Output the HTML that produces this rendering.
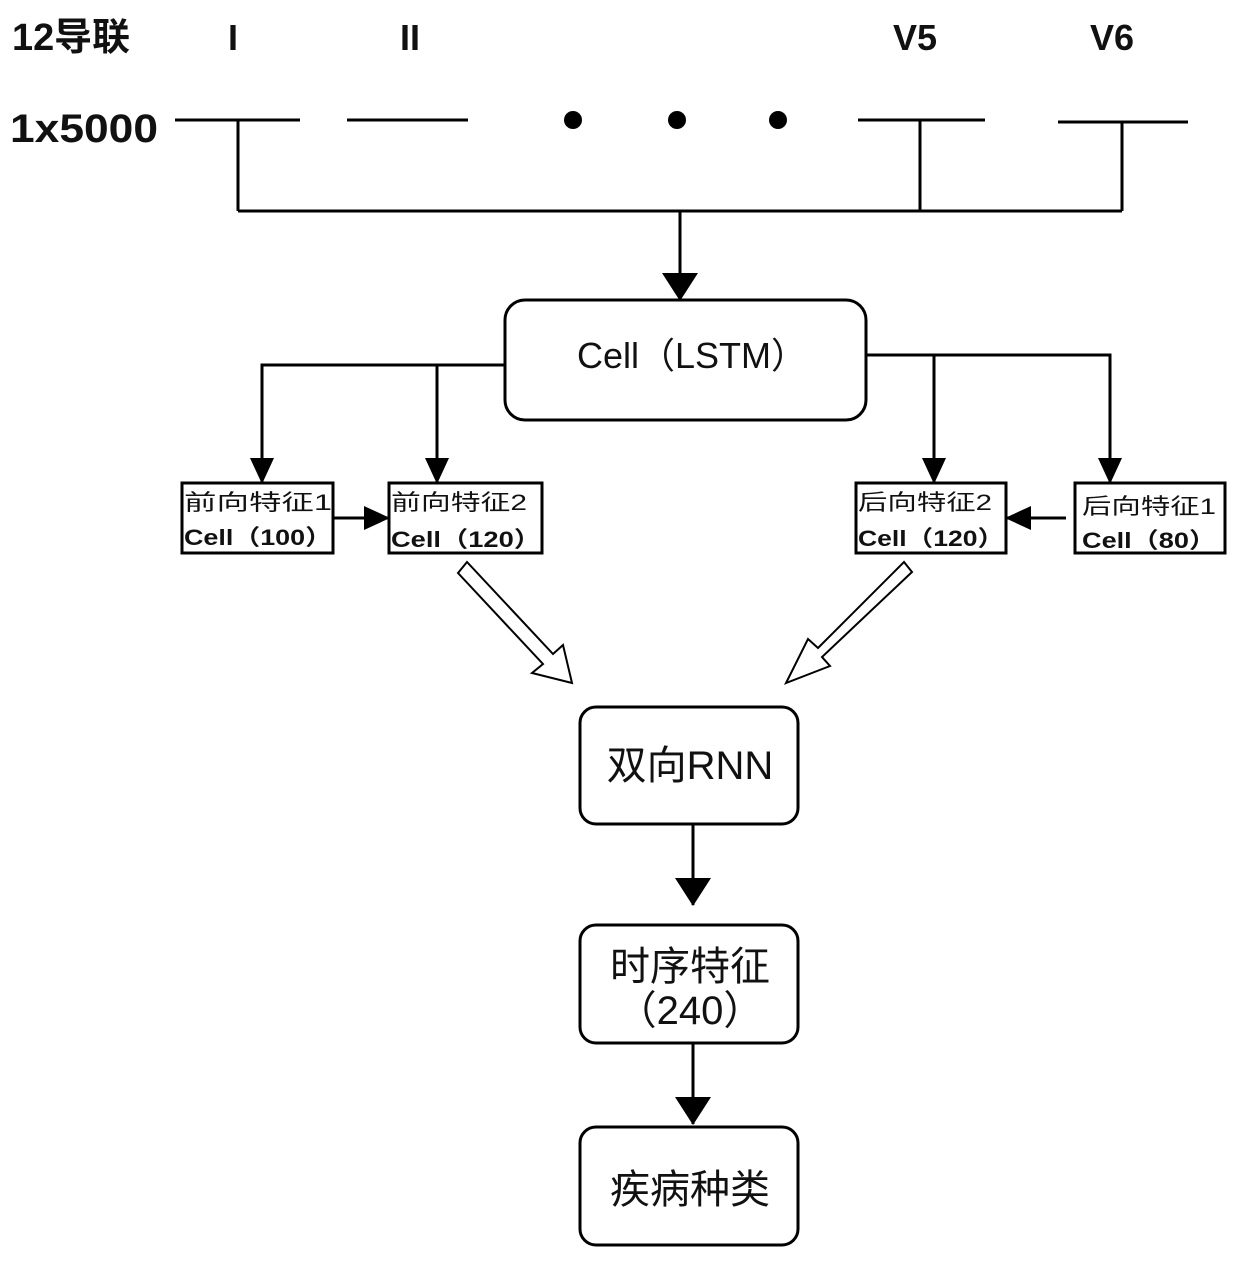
<!DOCTYPE html>
<html><head><meta charset="utf-8"><style>html,body{margin:0;padding:0;background:#fff}svg{display:block}</style></head>
<body>
<svg width="1240" height="1263" viewBox="0 0 1240 1263" xmlns="http://www.w3.org/2000/svg" font-family="'Liberation Sans','Noto Sans CJK SC',sans-serif">
<defs>
<marker id="a" markerWidth="12" markerHeight="10" refX="11" refY="5" orient="auto" markerUnits="userSpaceOnUse"><path d="M0,0 L12,5 L0,10 z" fill="#000"/></marker>
<marker id="b" markerWidth="26" markerHeight="24" refX="25" refY="12" orient="auto" markerUnits="userSpaceOnUse"><path d="M0,0 L26,12 L0,24 z" fill="#000"/></marker>
<marker id="c" markerWidth="28" markerHeight="36" refX="27" refY="18" orient="auto" markerUnits="userSpaceOnUse"><path d="M0,0 L28,18 L0,36 z" fill="#000"/></marker>
</defs>
<g font-weight="bold" fill="#111">
<text x="12" y="50" font-size="38" textLength="118" lengthAdjust="spacingAndGlyphs">12导联</text>
<text x="228" y="50" font-size="36">I</text>
<text x="400" y="50" font-size="36">II</text>
<text x="893" y="50" font-size="36">V5</text>
<text x="1090" y="50" font-size="36">V6</text>
<text x="10" y="142" font-size="40" textLength="148" lengthAdjust="spacingAndGlyphs">1x5000</text>
</g>
<g stroke="#000" stroke-width="3" fill="none">
<line x1="175" y1="120" x2="300" y2="120"/>
<line x1="347" y1="120" x2="468" y2="120"/>
<line x1="858" y1="120" x2="985" y2="120"/>
<line x1="1058" y1="122" x2="1188" y2="122"/>
<line x1="238" y1="120" x2="238" y2="211"/>
<line x1="920" y1="120" x2="920" y2="211"/>
<line x1="1122" y1="122" x2="1122" y2="211"/>
<line x1="238" y1="211" x2="1122" y2="211"/>
<line x1="680" y1="211" x2="680" y2="300" marker-end="url(#c)"/>
<rect x="505" y="300" width="361" height="120" rx="20"/>
<polyline points="505,365 262,365 262,483" marker-end="url(#b)"/>
<line x1="437" y1="365" x2="437" y2="483" marker-end="url(#b)"/>
<polyline points="866,355 1110,355 1110,483" marker-end="url(#b)"/>
<line x1="934" y1="355" x2="934" y2="483" marker-end="url(#b)"/>
<rect x="182" y="483" width="151" height="70"/>
<rect x="389" y="483" width="153" height="70"/>
<rect x="856" y="483" width="150" height="70"/>
<rect x="1075" y="483" width="150" height="70"/>
<line x1="333" y1="518" x2="389" y2="518" marker-end="url(#b)"/>
<line x1="1066" y1="518" x2="1006" y2="518" marker-end="url(#b)"/>
<rect x="580" y="707" width="218" height="117" rx="16"/>
<line x1="693" y1="824" x2="693" y2="905" marker-end="url(#c)"/>
<rect x="580" y="925" width="218" height="118" rx="16"/>
<line x1="693" y1="1043" x2="693" y2="1124" marker-end="url(#c)"/>
<rect x="580" y="1127" width="218" height="118" rx="16"/>
</g>
<g fill="#000">
<circle cx="573" cy="120" r="9"/><circle cx="677" cy="120" r="9"/><circle cx="778" cy="120" r="9"/>
</g>
<g stroke="#000" stroke-width="2" fill="#fff">
<polygon points="458,573 467,562 553,654 563,645 572,683 532,673 543,664"/>
<polygon points="912,572 904,562 818,648 808,639 786,683 830,666 822,657"/>
</g>
<g fill="#111">
<text x="692" y="368" font-size="36" text-anchor="middle">Cell（LSTM）</text>
<text x="184" y="510" font-size="22" textLength="148" lengthAdjust="spacingAndGlyphs">前向特征1</text>
<text x="184" y="545" font-size="22" font-weight="bold" textLength="148" lengthAdjust="spacingAndGlyphs">Cell（100）</text>
<text x="391" y="510" font-size="22" textLength="136" lengthAdjust="spacingAndGlyphs">前向特征2</text>
<text x="391" y="547" font-size="22" font-weight="bold" textLength="150" lengthAdjust="spacingAndGlyphs">Cell（120）</text>
<text x="858" y="510" font-size="22" textLength="134" lengthAdjust="spacingAndGlyphs">后向特征2</text>
<text x="858" y="546" font-size="22" font-weight="bold" textLength="146" lengthAdjust="spacingAndGlyphs">Cell（120）</text>
<text x="1082" y="514" font-size="22" textLength="134" lengthAdjust="spacingAndGlyphs">后向特征1</text>
<text x="1082" y="548" font-size="22" font-weight="bold" textLength="134" lengthAdjust="spacingAndGlyphs">Cell（80）</text>
<text x="690" y="779" font-size="40" text-anchor="middle">双向RNN</text>
<text x="690" y="980" font-size="40" text-anchor="middle">时序特征</text>
<text x="690" y="1024" font-size="40" text-anchor="middle">（240）</text>
<text x="690" y="1203" font-size="40" text-anchor="middle">疾病种类</text>
</g>
</svg>
</body></html>
